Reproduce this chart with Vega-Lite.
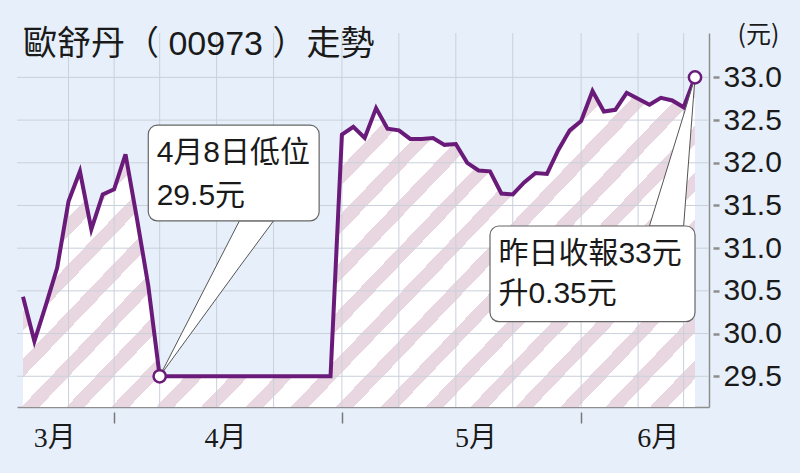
{
  "$schema": "https://vega.github.io/schema/vega-lite/v6.json",
  "width": 692,
  "height": 374,
  "autosize": "none",
  "padding": {"left": 17, "top": 33, "right": 91, "bottom": 66},
  "background": "#E7F0FA",
  "title": {
    "text": "歐舒丹（ 00973 ）走勢",
    "anchor": "start",
    "font": "Liberation Sans, Noto Sans CJK TC",
    "fontSize": 34,
    "fontWeight": "normal",
    "color": "#1a1a1a",
    "baseline": "alphabetic",
    "offset": 0,
    "dx": 8,
    "dy": 67
  },
  "datasets": {
    "prices": [
      {"date": "2024-03-18", "price": 30.43},
      {"date": "2024-03-19", "price": 29.91},
      {"date": "2024-03-20", "price": 30.33},
      {"date": "2024-03-21", "price": 30.77},
      {"date": "2024-03-22", "price": 31.55},
      {"date": "2024-03-25", "price": 31.90},
      {"date": "2024-03-26", "price": 31.22},
      {"date": "2024-03-27", "price": 31.63},
      {"date": "2024-03-28", "price": 31.69},
      {"date": "2024-04-02", "price": 32.10},
      {"date": "2024-04-03", "price": 31.35},
      {"date": "2024-04-05", "price": 30.56},
      {"date": "2024-04-08", "price": 29.50},
      {"date": "2024-04-09", "price": 29.50},
      {"date": "2024-04-10", "price": 29.50},
      {"date": "2024-04-11", "price": 29.50},
      {"date": "2024-04-12", "price": 29.50},
      {"date": "2024-04-15", "price": 29.50},
      {"date": "2024-04-16", "price": 29.50},
      {"date": "2024-04-17", "price": 29.50},
      {"date": "2024-04-18", "price": 29.50},
      {"date": "2024-04-19", "price": 29.50},
      {"date": "2024-04-22", "price": 29.50},
      {"date": "2024-04-23", "price": 29.50},
      {"date": "2024-04-24", "price": 29.50},
      {"date": "2024-04-25", "price": 29.50},
      {"date": "2024-04-26", "price": 29.50},
      {"date": "2024-04-29", "price": 29.50},
      {"date": "2024-04-30", "price": 32.33},
      {"date": "2024-05-02", "price": 32.42},
      {"date": "2024-05-03", "price": 32.29},
      {"date": "2024-05-06", "price": 32.64},
      {"date": "2024-05-07", "price": 32.40},
      {"date": "2024-05-08", "price": 32.38},
      {"date": "2024-05-09", "price": 32.28},
      {"date": "2024-05-10", "price": 32.28},
      {"date": "2024-05-13", "price": 32.29},
      {"date": "2024-05-14", "price": 32.21},
      {"date": "2024-05-16", "price": 32.22},
      {"date": "2024-05-17", "price": 32.00},
      {"date": "2024-05-20", "price": 31.91},
      {"date": "2024-05-21", "price": 31.90},
      {"date": "2024-05-22", "price": 31.64},
      {"date": "2024-05-23", "price": 31.63},
      {"date": "2024-05-24", "price": 31.77},
      {"date": "2024-05-27", "price": 31.88},
      {"date": "2024-05-28", "price": 31.87},
      {"date": "2024-05-29", "price": 32.15},
      {"date": "2024-05-30", "price": 32.38},
      {"date": "2024-05-31", "price": 32.49},
      {"date": "2024-06-03", "price": 32.84},
      {"date": "2024-06-04", "price": 32.60},
      {"date": "2024-06-05", "price": 32.62},
      {"date": "2024-06-06", "price": 32.82},
      {"date": "2024-06-07", "price": 32.75},
      {"date": "2024-06-11", "price": 32.68},
      {"date": "2024-06-12", "price": 32.76},
      {"date": "2024-06-13", "price": 32.73},
      {"date": "2024-06-14", "price": 32.65},
      {"date": "2024-06-17", "price": 33.00}
    ],
    "ygrid": [
      {"price": 29.5}, {"price": 30.0}, {"price": 30.5}, {"price": 31.0},
      {"price": 31.5}, {"price": 32.0}, {"price": 32.5}, {"price": 33.0}
    ],
    "xgrid": [
      {"date": "2024-03-22"}, {"date": "2024-03-28"}, {"date": "2024-04-08"},
      {"date": "2024-04-15"}, {"date": "2024-04-22"}, {"date": "2024-04-30"},
      {"date": "2024-05-08"}, {"date": "2024-05-16"}, {"date": "2024-05-23"},
      {"date": "2024-05-31"}, {"date": "2024-06-07"}, {"date": "2024-06-14"}
    ],
    "wedges": [
      {"id": 1, "date": "2024-04-08", "price": 29.5, "price2": 29.5},
      {"id": 1, "date": "2024-04-17", "price": 31.32, "price2": 30.78},
      {"id": 1, "date": "2024-04-22", "price": 31.32, "price2": 31.32},
      {"id": 2, "date": "2024-06-11", "price": 31.26, "price2": 31.26},
      {"id": 2, "date": "2024-06-14", "price": 32.56, "price2": 31.26},
      {"id": 2, "date": "2024-06-17", "price": 33.0, "price2": 33.0}
    ],
    "boxes": [
      {"date": "2024-04-05", "date2": "2024-04-26", "price": 32.44, "price2": 31.32},
      {"date": "2024-05-21", "date2": "2024-06-17", "price": 31.26, "price2": 30.14}
    ],
    "notes": [
      {"date": "2024-04-08", "price": 32.01, "label": "4月8日低位"},
      {"date": "2024-04-08", "price": 31.51, "label": "29.5元"},
      {"date": "2024-05-22", "price": 30.83, "label": "昨日收報33元"},
      {"date": "2024-05-22", "price": 30.36, "label": "升0.35元"}
    ]
  },
  "layer": [
    {
      "data": {"name": "prices"},
      "mark": {
        "type": "area",
        "fill": {
          "gradient": "linear",
          "x1": 0, "y1": 0, "x2": 1.204, "y2": 0.566,
          "stops": [
            {"offset": 0, "color": "#E8D7E1"}, {"offset": 0.0182, "color": "#E8D7E1"}, {"offset": 0.0182, "color": "#FFFFFF"}, {"offset": 0.0455, "color": "#FFFFFF"},
            {"offset": 0.0455, "color": "#E8D7E1"}, {"offset": 0.0636, "color": "#E8D7E1"}, {"offset": 0.0636, "color": "#FFFFFF"}, {"offset": 0.0909, "color": "#FFFFFF"},
            {"offset": 0.0909, "color": "#E8D7E1"}, {"offset": 0.1091, "color": "#E8D7E1"}, {"offset": 0.1091, "color": "#FFFFFF"}, {"offset": 0.1364, "color": "#FFFFFF"},
            {"offset": 0.1364, "color": "#E8D7E1"}, {"offset": 0.1545, "color": "#E8D7E1"}, {"offset": 0.1545, "color": "#FFFFFF"}, {"offset": 0.1818, "color": "#FFFFFF"},
            {"offset": 0.1818, "color": "#E8D7E1"}, {"offset": 0.2, "color": "#E8D7E1"}, {"offset": 0.2, "color": "#FFFFFF"}, {"offset": 0.2273, "color": "#FFFFFF"},
            {"offset": 0.2273, "color": "#E8D7E1"}, {"offset": 0.2455, "color": "#E8D7E1"}, {"offset": 0.2455, "color": "#FFFFFF"}, {"offset": 0.2727, "color": "#FFFFFF"},
            {"offset": 0.2727, "color": "#E8D7E1"}, {"offset": 0.2909, "color": "#E8D7E1"}, {"offset": 0.2909, "color": "#FFFFFF"}, {"offset": 0.3182, "color": "#FFFFFF"},
            {"offset": 0.3182, "color": "#E8D7E1"}, {"offset": 0.3364, "color": "#E8D7E1"}, {"offset": 0.3364, "color": "#FFFFFF"}, {"offset": 0.3636, "color": "#FFFFFF"},
            {"offset": 0.3636, "color": "#E8D7E1"}, {"offset": 0.3818, "color": "#E8D7E1"}, {"offset": 0.3818, "color": "#FFFFFF"}, {"offset": 0.4091, "color": "#FFFFFF"},
            {"offset": 0.4091, "color": "#E8D7E1"}, {"offset": 0.4273, "color": "#E8D7E1"}, {"offset": 0.4273, "color": "#FFFFFF"}, {"offset": 0.4545, "color": "#FFFFFF"},
            {"offset": 0.4545, "color": "#E8D7E1"}, {"offset": 0.4727, "color": "#E8D7E1"}, {"offset": 0.4727, "color": "#FFFFFF"}, {"offset": 0.5, "color": "#FFFFFF"},
            {"offset": 0.5, "color": "#E8D7E1"}, {"offset": 0.5182, "color": "#E8D7E1"}, {"offset": 0.5182, "color": "#FFFFFF"}, {"offset": 0.5455, "color": "#FFFFFF"},
            {"offset": 0.5455, "color": "#E8D7E1"}, {"offset": 0.5636, "color": "#E8D7E1"}, {"offset": 0.5636, "color": "#FFFFFF"}, {"offset": 0.5909, "color": "#FFFFFF"},
            {"offset": 0.5909, "color": "#E8D7E1"}, {"offset": 0.6091, "color": "#E8D7E1"}, {"offset": 0.6091, "color": "#FFFFFF"}, {"offset": 0.6364, "color": "#FFFFFF"},
            {"offset": 0.6364, "color": "#E8D7E1"}, {"offset": 0.6545, "color": "#E8D7E1"}, {"offset": 0.6545, "color": "#FFFFFF"}, {"offset": 0.6818, "color": "#FFFFFF"},
            {"offset": 0.6818, "color": "#E8D7E1"}, {"offset": 0.7, "color": "#E8D7E1"}, {"offset": 0.7, "color": "#FFFFFF"}, {"offset": 0.7273, "color": "#FFFFFF"},
            {"offset": 0.7273, "color": "#E8D7E1"}, {"offset": 0.7455, "color": "#E8D7E1"}, {"offset": 0.7455, "color": "#FFFFFF"}, {"offset": 0.7727, "color": "#FFFFFF"},
            {"offset": 0.7727, "color": "#E8D7E1"}, {"offset": 0.7909, "color": "#E8D7E1"}, {"offset": 0.7909, "color": "#FFFFFF"}, {"offset": 0.8182, "color": "#FFFFFF"},
            {"offset": 0.8182, "color": "#E8D7E1"}, {"offset": 0.8364, "color": "#E8D7E1"}, {"offset": 0.8364, "color": "#FFFFFF"}, {"offset": 0.8636, "color": "#FFFFFF"},
            {"offset": 0.8636, "color": "#E8D7E1"}, {"offset": 0.8818, "color": "#E8D7E1"}, {"offset": 0.8818, "color": "#FFFFFF"}, {"offset": 0.9091, "color": "#FFFFFF"},
            {"offset": 0.9091, "color": "#E8D7E1"}, {"offset": 0.9273, "color": "#E8D7E1"}, {"offset": 0.9273, "color": "#FFFFFF"}, {"offset": 0.9545, "color": "#FFFFFF"},
            {"offset": 0.9545, "color": "#E8D7E1"}, {"offset": 0.9727, "color": "#E8D7E1"}, {"offset": 0.9727, "color": "#FFFFFF"}, {"offset": 1, "color": "#FFFFFF"}
          ]
        }
      },
      "encoding": {
        "x": {
          "field": "date", "type": "ordinal", "sort": "ascending",
          "scale": {"type": "point", "padding": 0.877, "align": 0.3},
          "axis": {
            "title": null,
            "grid": false,
            "values": ["2024-03-21", "2024-03-28", "2024-04-16", "2024-04-30", "2024-05-20", "2024-05-31", "2024-06-12"],
            "labelExpr": "indexof(['2024-03-21','2024-04-16','2024-05-20','2024-06-12'], datum.value) >= 0 ? toNumber(substring(datum.value, 5, 7)) + '月' : ''",
            "tickOpacity": {"condition": {"test": "indexof(['2024-03-28','2024-04-30','2024-05-31'], datum.value) >= 0", "value": 1}, "value": 0},
            "tickSize": 16,
            "tickDash": [0, 5, 11, 40],
            "tickColor": "#777777",
            "tickWidth": 1.5,
            "domainColor": "#8E8E8E",
            "domainWidth": 1.5,
            "labelAngle": 0,
            "labelFont": "Liberation Serif, Noto Sans CJK TC",
            "labelFontSize": 28,
            "labelColor": "#1a1a1a",
            "labelBaseline": "top",
            "labelPadding": 1,
            "labelOffset": -3
          }
        },
        "y": {
          "field": "price", "type": "quantitative",
          "scale": {"domain": [29.14, 33.52], "nice": false, "zero": false},
          "axis": {
            "orient": "right",
            "grid": false,
            "values": [29.5, 30, 30.5, 31, 31.5, 32, 32.5, 33],
            "format": ".1f",
            "domainColor": "#8E8E8E",
            "domainWidth": 1.5,
            "tickSize": 10,
            "tickDash": [0, 4, 6, 20],
            "tickWidth": 2.5,
            "tickColor": "#8E8E8E",
            "labelFont": "Liberation Sans",
            "labelFontSize": 30,
            "labelColor": "#1a1a1a",
            "labelPadding": 4,
            "title": "(元)",
            "titleAngle": 0,
            "titleFont": "Noto Sans CJK TC",
            "titleFontSize": 25,
            "titleFontWeight": "normal",
            "titleColor": "#1a1a1a",
            "titleAlign": "center",
            "titleBaseline": "middle",
            "titleX": 49,
            "titleY": 1
          }
        },
        "y2": {"datum": 29.14}
      }
    },
    {
      "data": {"name": "ygrid"},
      "mark": {"type": "rule", "color": "#C9D0DA", "strokeWidth": 1},
      "encoding": {
        "y": {"field": "price", "type": "quantitative"}
      }
    },
    {
      "data": {"name": "xgrid"},
      "mark": {"type": "rule", "color": "#C9D0DA", "strokeWidth": 1},
      "encoding": {
        "x": {"field": "date", "type": "ordinal", "sort": "ascending", "scale": {"type": "point"}}
      }
    },
    {
      "data": {"name": "prices"},
      "mark": {"type": "line", "color": "#6A1B7A", "strokeWidth": 4},
      "encoding": {
        "x": {"field": "date", "type": "ordinal", "sort": "ascending", "scale": {"type": "point"}},
        "y": {"field": "price", "type": "quantitative"}
      }
    },
    {
      "data": {"name": "wedges"},
      "mark": {"type": "area", "fill": "#FFFFFF", "stroke": "#555555", "strokeWidth": 1, "orient": "vertical"},
      "encoding": {
        "x": {"field": "date", "type": "ordinal", "sort": "ascending", "scale": {"type": "point"}},
        "y": {"field": "price", "type": "quantitative"},
        "y2": {"field": "price2"},
        "detail": {"field": "id", "type": "nominal"}
      }
    },
    {
      "data": {"name": "boxes"},
      "mark": {"type": "rect", "fill": "#FFFFFF", "stroke": "#666666", "strokeWidth": 1.2, "cornerRadius": 9},
      "encoding": {
        "x": {"field": "date", "type": "ordinal", "sort": "ascending", "scale": {"type": "point"}},
        "x2": {"field": "date2"},
        "y": {"field": "price", "type": "quantitative"},
        "y2": {"field": "price2"}
      }
    },
    {
      "data": {"name": "notes"},
      "mark": {"type": "text", "align": "left", "baseline": "alphabetic", "dx": -3, "font": "Liberation Sans, Noto Sans CJK TC", "fontSize": 30, "color": "#1a1a1a"},
      "encoding": {
        "x": {"field": "date", "type": "ordinal", "sort": "ascending", "scale": {"type": "point"}},
        "y": {"field": "price", "type": "quantitative"},
        "text": {"field": "label"}
      }
    },
    {
      "data": {"name": "prices"},
      "transform": [{"filter": "datum.date == '2024-04-08' || datum.date == '2024-06-17'"}],
      "mark": {"type": "point", "filled": true, "fill": "#FFFFFF", "stroke": "#6A1B7A", "strokeWidth": 2.5, "size": 150, "opacity": 1},
      "encoding": {
        "x": {"field": "date", "type": "ordinal", "sort": "ascending", "scale": {"type": "point"}},
        "y": {"field": "price", "type": "quantitative"}
      }
    }
  ],
  "config": {
    "view": {"stroke": null}
  }
}
